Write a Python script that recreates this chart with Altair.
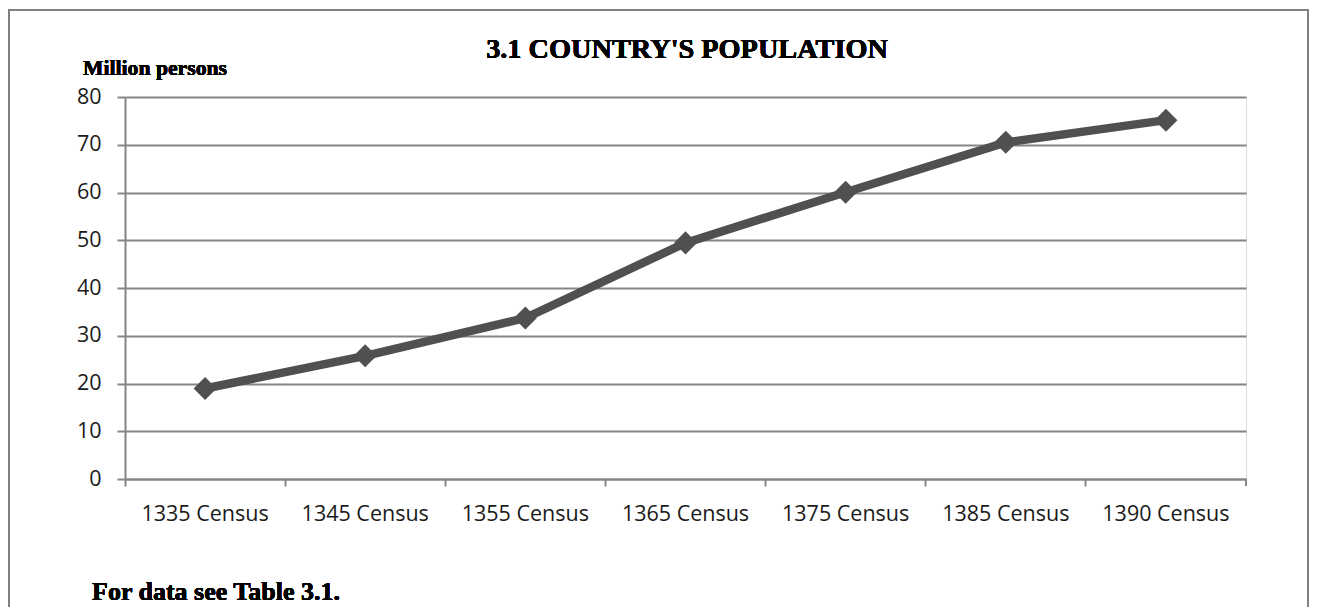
import altair as alt
import pandas as pd

categories = ["1335 Census", "1345 Census", "1355 Census", "1365 Census",
              "1375 Census", "1385 Census", "1390 Census"]
population = [18.95, 25.79, 33.71, 49.45, 60.06, 70.50, 75.15]

title_text = "3.1 COUNTRY'S POPULATION"
y_unit = "Million persons"
footnote = "For data see Table 3.1."

df = pd.DataFrame({"census": categories, "pop": population})

W, H = 1121, 382
GRAY = "#868686"
LINE = "#505050"
SANS = "Open Sans"
SERIF = "Liberation Serif"

x_enc = alt.X(
    "census:N", sort=categories, title=None, bandPosition=0.5,
    scale=alt.Scale(type="band", paddingInner=0, paddingOuter=0),
    axis=alt.Axis(bandPosition=0, labelAngle=0, labelFont=SANS,
                  labelFontSize=21.5, labelColor="#1a1a1a", labelPadding=17,
                  tickColor=GRAY, tickWidth=2, tickSize=7, domainColor=GRAY,
                  domainWidth=2, grid=False),
)
y_enc = alt.Y(
    "pop:Q", title=None,
    scale=alt.Scale(domain=[0, 80], nice=False, zero=True),
    axis=alt.Axis(values=list(range(0, 81, 10)), labelFont=SANS, labelFontSize=21.5,
                  labelColor="#1a1a1a", labelPadding=16, tickColor=GRAY, tickWidth=2,
                  tickSize=8, domainColor=GRAY, domainWidth=2, grid=True,
                  gridColor=GRAY, gridWidth=2),
)

line = alt.Chart(df).mark_line(color=LINE, strokeWidth=8.5).encode(x=x_enc, y=y_enc)
pts = alt.Chart(df).mark_point(shape="diamond", filled=True, size=530, color=LINE,
                               opacity=1).encode(x=x_enc, y=y_enc)

last_tick = alt.Chart(df).mark_rule(color=GRAY, strokeWidth=2).encode(
    x=alt.value(W), y=alt.value(H), y2=alt.value(H + 7))

BCOL = "#7f7f7f"
border_top = alt.Chart(df).mark_rule(color=BCOL, strokeWidth=2).encode(
    x=alt.value(-116), x2=alt.value(W + 62), y=alt.value(-87))
border_left = alt.Chart(df).mark_rule(color=BCOL, strokeWidth=2).encode(
    x=alt.value(-116), y=alt.value(-88), y2=alt.value(H + 150))
border_right = alt.Chart(df).mark_rule(color=BCOL, strokeWidth=2).encode(
    x=alt.value(W + 62), y=alt.value(-88), y2=alt.value(H + 150))

title = alt.Chart(df).mark_text(text=title_text, font=SERIF, fontSize=28.3,
                                fontWeight="bold", color="#000", baseline="alphabetic",
                                align="center").encode(x=alt.value(562), y=alt.value(-39))
ylab = alt.Chart(df).mark_text(text=y_unit, font=SERIF, fontSize=21.7, fontWeight="bold",
                               color="#000", baseline="alphabetic", align="left").encode(
    x=alt.value(-42), y=alt.value(-22))
foot = alt.Chart(df).mark_text(text=footnote, font=SERIF, fontSize=26, fontWeight="bold",
                               color="#000", baseline="alphabetic", align="left").encode(
    x=alt.value(-33), y=alt.value(503))

chart = alt.layer(border_top, border_left, border_right, line, pts, last_tick,
                  title, ylab, foot).properties(
    width=W, height=H,
    autosize=alt.AutoSizeParams(type="none"),
    padding={"left": 117, "top": 89, "right": 63, "bottom": 128},
).configure_view(fill="#e4e4e4", stroke=None).configure(background="white")

chart.save("out.html", embed_options={"renderer": "svg", "actions": False})
